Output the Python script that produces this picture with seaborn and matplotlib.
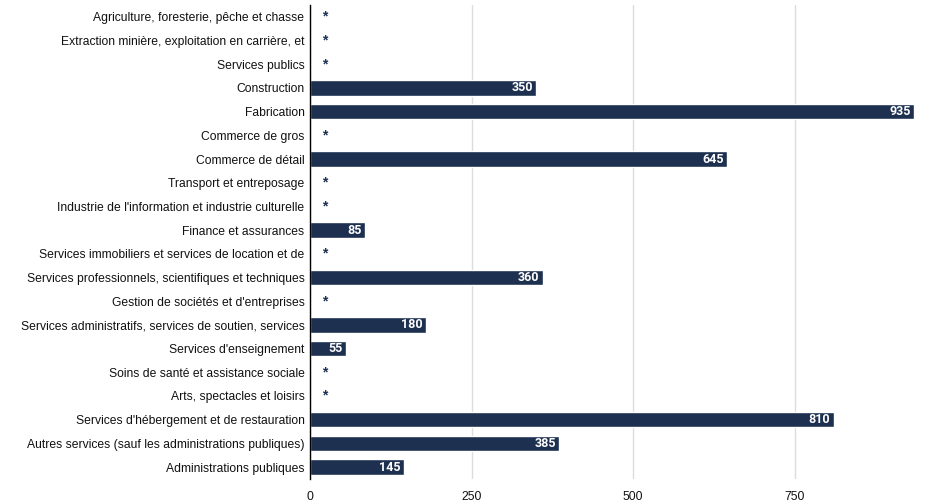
import numpy as np
import pandas as pd
import matplotlib.pyplot as plt
import seaborn as sns

categories = [
    "Agriculture, foresterie, pêche et chasse",
    "Extraction minière, exploitation en carrière, et",
    "Services publics",
    "Construction",
    "Fabrication",
    "Commerce de gros",
    "Commerce de détail",
    "Transport et entreposage",
    "Industrie de l'information et industrie culturelle",
    "Finance et assurances",
    "Services immobiliers et services de location et de",
    "Services professionnels, scientifiques et techniques",
    "Gestion de sociétés et d'entreprises",
    "Services administratifs, services de soutien, services",
    "Services d'enseignement",
    "Soins de santé et assistance sociale",
    "Arts, spectacles et loisirs",
    "Services d'hébergement et de restauration",
    "Autres services (sauf les administrations publiques)",
    "Administrations publiques",
]
# None = valeur supprimée (*)
values = [None, None, None, 350, 935, None, 645, None, None, 85,
          None, 360, None, 180, 55, None, None, 810, 385, 145]

BAR = "#1d3050"

df = pd.DataFrame({"cat": categories,
                   "val": [v if v is not None else 0 for v in values]})

sns.set_style("white")
plt.rcParams['font.family'] = ['Liberation Sans', 'DejaVu Sans']

fig = plt.figure(figsize=(9.28, 5.03), dpi=100)
ax = fig.add_axes([0.334, 0.048, 0.657, 0.942])

sns.barplot(data=df, x="val", y="cat", color=BAR, saturation=1,
            width=0.66, ax=ax, zorder=3)

for i, v in enumerate(values):
    if v is None:
        ax.text(23, i, "*", color=BAR, fontsize=10, fontweight="bold",
                ha="center", va="center", zorder=4)
    else:
        ax.text(v - 5, i, str(v), color="white", fontsize=9, fontweight="bold",
                family="Roboto", ha="right", va="center", zorder=4)

ax.set_xlim(0, 943)
ax.set_xticks([0, 250, 500, 750])
ax.set_xticklabels(["0", "250", "500", "750"], fontsize=8.8, color="#111111")
ax.xaxis.grid(True, color="#dcdcdc", linewidth=1, zorder=0)
ax.set_xlabel("")
ax.set_ylabel("")
ax.tick_params(axis="y", labelsize=8.75, labelcolor="#111111", length=0, pad=4)
ax.tick_params(axis="x", length=0, pad=9)
for s in ["top", "right", "bottom"]:
    ax.spines[s].set_visible(False)
ax.spines["left"].set_color("black")
ax.spines["left"].set_linewidth(1)
ax.spines["left"].set_zorder(5)

fig.savefig("out.png", dpi=100)
